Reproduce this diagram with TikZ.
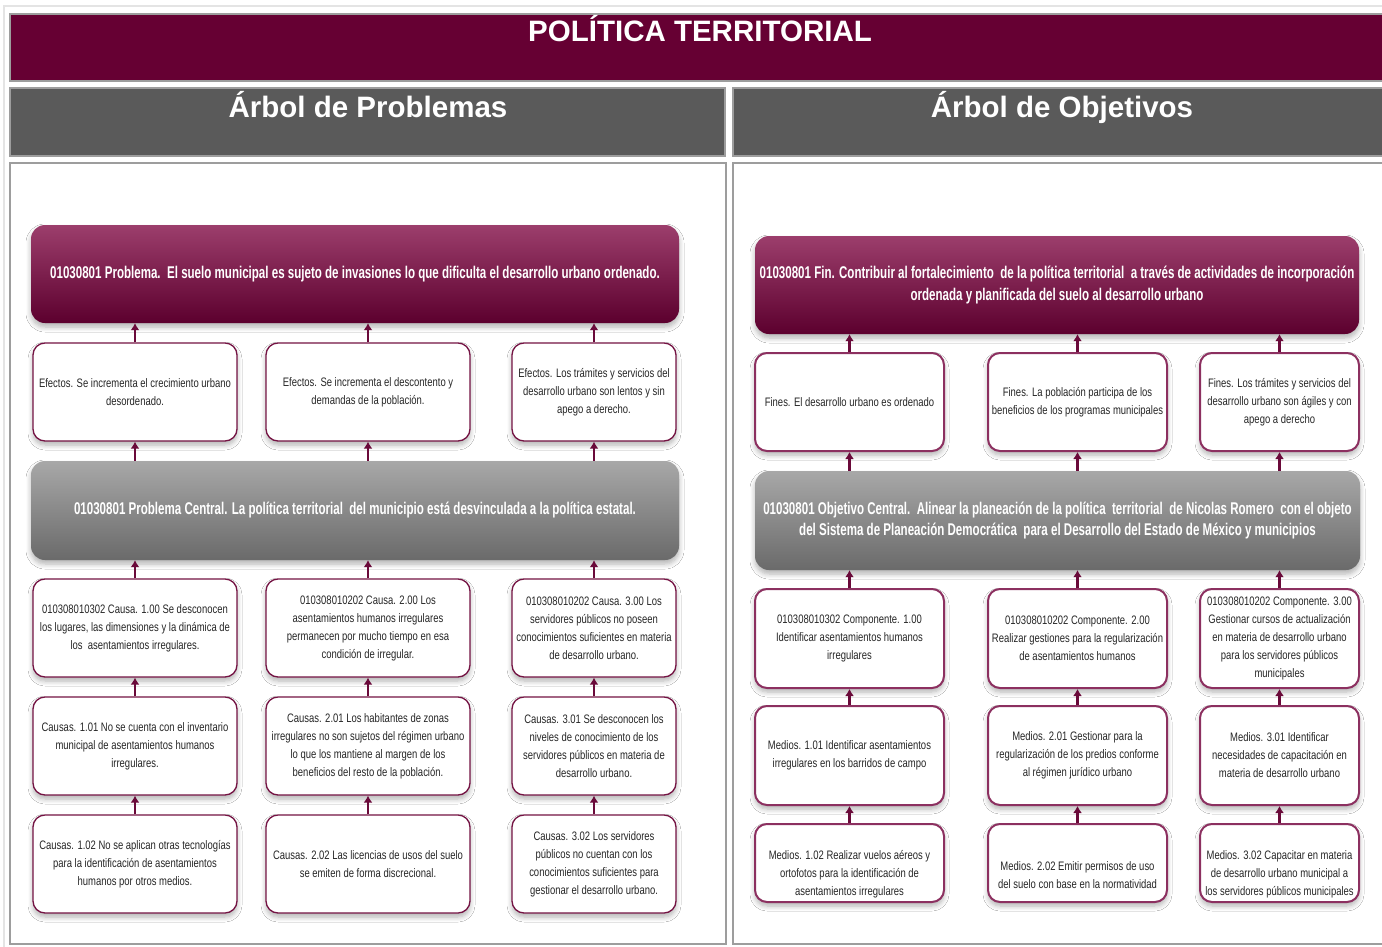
\documentclass[tikz,border=0pt]{standalone}
\usepackage{fontspec}
\setmainfont{Liberation Sans}
\newfontfamily\narrowf[FakeStretch=0.77]{Liberation Sans}
\newfontfamily\boldcond[FakeStretch=0.68]{Liberation Sans Bold}
\usetikzlibrary{shadows.blur,arrows.meta}
\definecolor{tmaroon}{HTML}{660033}
\definecolor{mtop}{HTML}{9C3E6C}
\definecolor{mmid}{HTML}{6E0C3E}
\definecolor{mbot}{HTML}{5C002E}
\definecolor{gtop}{HTML}{A8A8A8}
\definecolor{gmid}{HTML}{7C7C7C}
\definecolor{gbot}{HTML}{6A6A6A}
\definecolor{hdrgray}{HTML}{5A5A5A}
\definecolor{framegray}{HTML}{9D9D9D}
\definecolor{lightframe}{HTML}{E4E4E4}
\definecolor{bordL}{HTML}{741343}
\definecolor{bordR}{HTML}{8C3060}
\definecolor{arrcol}{HTML}{6A0A3A}
\begin{document}
\begin{tikzpicture}[x=1pt,y=-1pt,
  hdrtext/.style={text=white, inner sep=0pt, anchor=base, font={\fontsize{29.5}{31}\bfseries\selectfont}},
  panel/.style={draw=framegray, line width=1.6pt},
  shad/.style={blur shadow={shadow xshift=0pt, shadow yshift=-4pt, shadow blur radius=5pt, shadow blur steps=6, shadow opacity=30}},
  smallL/.style={shad, draw=bordL, line width=1.3pt, fill=white, rounded corners=12pt, align=center,
     inner sep=2pt, font={\narrowf\fontsize{12.3}{18}\selectfont}, text=black!85},
  smallR/.style={smallL, draw=bordR, line width=2pt},
  txtR/.style={align=center, inner sep=0pt, font={\narrowf\fontsize{12.3}{18}\selectfont}, text=black!85},
  bigM/.style={shad, rounded corners=14pt, top color=mtop, middle color=mmid, bottom color=mbot,
     align=center, text=white, font={\boldcond\fontsize{17}{21.5}\selectfont}, inner sep=4pt},
  bigG/.style={bigM, top color=gtop, middle color=gmid, bottom color=gbot},
  arr/.style={draw=arrcol, line width=2.2pt, -{Latex[length=7pt,width=9pt]}},
]
\useasboundingbox (0,0) rectangle (1382,946);
\clip (0,0) rectangle (1382,946);
\fill[white] (0,0) rectangle (1382,946);
% frames
\draw[lightframe, line width=1.5pt] (4,6) rectangle (1392,952);
\draw[panel, fill=tmaroon] (10,14) rectangle (1392,81);
\draw[panel, fill=hdrgray] (10,88) rectangle (725,156);
\draw[panel, fill=hdrgray] (733,88) rectangle (1392,156);
\draw[panel] (10,163) rectangle (726,944);
\draw[panel] (733,163) rectangle (1392,944);
\node[hdrtext] (title) at (700,41) {POLÍTICA TERRITORIAL};
\node[hdrtext] (hl) at (368,117) {Árbol de Problemas};
\node[hdrtext] (hr) at (1062,117) {Árbol de Objetivos};

% ===== Left tree =====
\node[bigM, minimum width=648, minimum height=98] (P) at (355,274)
 {01030801 Problema.\ \ El suelo municipal es sujeto de invasiones lo que dificulta el desarrollo urbano ordenado.};
\node[smallL, minimum width=204, minimum height=98] (e1) at (135,392)
 {Efectos. Se incrementa el crecimiento urbano\\desordenado.};
\node[smallL, minimum width=204, minimum height=98] (e2) at (368,392)
 {Efectos. Se incrementa el descontento y\\demandas de la población.};
\node[smallL, minimum width=164, minimum height=98] (e3) at (594,392)
 {Efectos. Los trámites y servicios del\\desarrollo urbano son lentos y sin\\apego a derecho.};
\node[bigG, minimum width=648, minimum height=99] (C) at (355,510.5)
 {01030801 Problema Central. La política territorial\ \ del municipio está desvinculada a la política estatal.};
\node[smallL, minimum width=204, minimum height=98] (c1) at (135,628)
 {010308010302 Causa. 1.00 Se desconocen\\los lugares, las dimensiones y la dinámica de\\los\ \ asentamientos irregulares.};
\node[smallL, minimum width=204, minimum height=98] (c2) at (368,628)
 {010308010202 Causa. 2.00 Los\\asentamientos humanos irregulares\\permanecen por mucho tiempo en esa\\condición de irregular.};
\node[smallL, minimum width=164, minimum height=98] (c3) at (594,628)
 {010308010202 Causa. 3.00 Los\\servidores públicos no poseen\\conocimientos suficientes en materia\\de desarrollo urbano.};
\node[smallL, minimum width=204, minimum height=98] (c11) at (135,746)
 {Causas. 1.01 No se cuenta con el inventario\\municipal de asentamientos humanos\\irregulares.};
\node[smallL, minimum width=204, minimum height=98] (c21) at (368,746)
 {Causas. 2.01 Los habitantes de zonas\\irregulares no son sujetos del régimen urbano\\lo que los mantiene al margen de los\\beneficios del resto de la población.};
\node[smallL, minimum width=164, minimum height=98] (c31) at (594,746)
 {Causas. 3.01 Se desconocen los\\niveles de conocimiento de los\\servidores públicos en materia de\\desarrollo urbano.};
\node[smallL, minimum width=204, minimum height=98] (c12) at (135,864)
 {Causas. 1.02 No se aplican otras tecnologías\\para la identificación de asentamientos\\humanos por otros medios.};
\node[smallL, minimum width=204, minimum height=98] (c22) at (368,864)
 {Causas. 2.02 Las licencias de usos del suelo\\se emiten de forma discrecional.};
\node[smallL, minimum width=164, minimum height=98] (c32) at (594,864)
 {Causas. 3.02 Los servidores\\públicos no cuentan con los\\conocimientos suficientes para\\gestionar el desarrollo urbano.};

\foreach \a/\b in {e1/P,e2/P,e3/P,c1/C,c2/C,c3/C}
  \draw[arr] (\a.north) -- (\a.north |- \b.south);
\foreach \a in {e1,e2,e3}
  \draw[arr] (\a.north |- C.north) -- (\a.south);
\foreach \a/\b in {c11/c1,c21/c2,c31/c3,c12/c11,c22/c21,c32/c31}
  \draw[arr] (\a.north) -- (\b.south);

% ===== Right tree =====
\node[bigM, minimum width=604, minimum height=98] (F) at (1057,285)
 {01030801 Fin. Contribuir al fortalecimiento\ \ de la política territorial\ \ a través de actividades de incorporación\\ordenada y planificada del suelo al desarrollo urbano};
\node[smallR, minimum width=189, minimum height=98] (f1) at (849.5,402)
 {Fines. El desarrollo urbano es ordenado};
\node[smallR, minimum width=179, minimum height=98] (f2) at (1077.5,402)
 {Fines. La población participa de los\\beneficios de los programas municipales};
\node[smallR, minimum width=159, minimum height=98] (f3) at (1279.5,402)
 {Fines. Los trámites y servicios del\\desarrollo urbano son ágiles y con\\apego a derecho};
\node[bigG, minimum width=605, minimum height=99] (O) at (1057.5,520.5)
 {01030801 Objetivo Central.\ \ Alinear la planeación de la política\ \ territorial\ \ de Nicolas Romero\ \ con el objeto\\del Sistema de Planeación Democrática\ \ para el Desarrollo del Estado de México y municipios};
\node[smallR, minimum width=189, minimum height=99] (k1) at (849.5,638.5)
 {010308010302 Componente. 1.00\\Identificar asentamientos humanos\\irregulares};
\node[smallR, minimum width=179, minimum height=99] (k2) at (1077.5,638.5)
 {010308010202 Componente. 2.00\\Realizar gestiones para la regularización\\de asentamientos humanos};
\node[smallR, minimum width=159, minimum height=99] (k3) at (1279.5,638.5)
 {010308010202 Componente. 3.00\\Gestionar cursos de actualización\\en materia de desarrollo urbano\\para los servidores públicos\\municipales};
\node[smallR, minimum width=189, minimum height=99] (m11) at (849.5,755.5)
 {Medios. 1.01 Identificar asentamientos\\irregulares en los barridos de campo};
\node[smallR, minimum width=179, minimum height=99] (m21) at (1077.5,755.5)
 {Medios. 2.01 Gestionar para la\\regularización de los predios conforme\\al régimen jurídico urbano};
\node[smallR, minimum width=159, minimum height=99] (m31) at (1279.5,755.5)
 {Medios. 3.01 Identificar\\necesidades de capacitación en\\materia de desarrollo urbano};
\node[smallR, minimum width=189, minimum height=78] (m12) at (849.5,863) {};
\node[smallR, minimum width=179, minimum height=78] (m22) at (1077.5,863) {};
\node[smallR, minimum width=159, minimum height=78] (m32) at (1279.5,863) {};
\node[txtR] (m12t) at (849.5,874)
 {Medios. 1.02 Realizar vuelos aéreos y\\ortofotos para la identificación de\\asentamientos irregulares};
\node[txtR] (m22t) at (1077.5,875)
 {Medios. 2.02 Emitir permisos de uso\\del suelo con base en la normatividad};
\node[txtR] (m32t) at (1279.5,874)
 {Medios. 3.02 Capacitar en materia\\de desarrollo urbano municipal a\\los servidores públicos municipales};

\foreach \a/\b in {f1/F,f2/F,f3/F,k1/O,k2/O,k3/O}
  \draw[arr] (\a.north) -- (\a.north |- \b.south);
\foreach \a in {f1,f2,f3}
  \draw[arr] (\a.north |- O.north) -- (\a.south);
\foreach \a/\b in {m11/k1,m21/k2,m31/k3,m12/m11,m22/m21,m32/m31}
  \draw[arr] (\a.north) -- (\b.south);
\end{tikzpicture}
\end{document}
